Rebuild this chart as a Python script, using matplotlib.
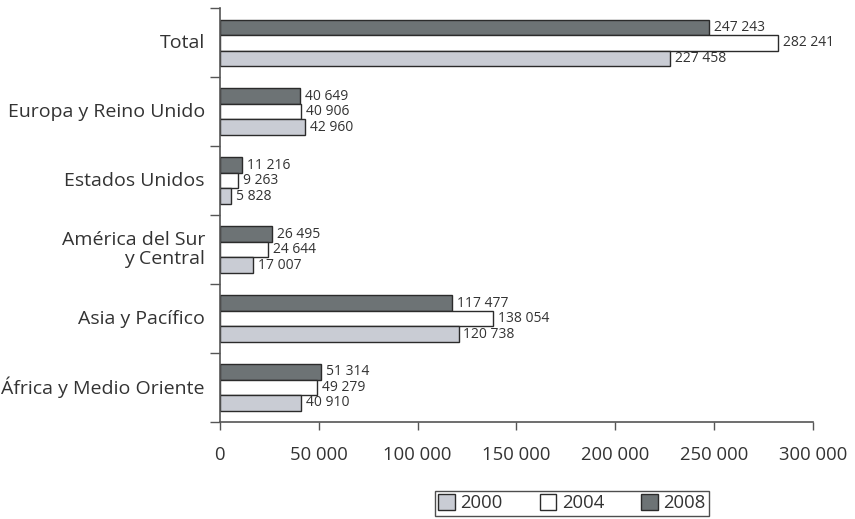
import numpy as np
import matplotlib
matplotlib.use("Agg")
import matplotlib.pyplot as plt

plt.rcParams['font.family'] = ['Open Sans', 'DejaVu Sans']

regions = ["Total", "Europa y Reino Unido", "Estados Unidos",
           "América del Sur\ny Central", "Asia y Pacífico", "África y Medio Oriente"]
years = ["2000", "2004", "2008"]
v2000 = [227458, 42960, 5828, 17007, 120738, 40910]
v2004 = [282241, 40906, 9263, 24644, 138054, 49279]
v2008 = [247243, 40649, 11216, 26495, 117477, 51314]

colors = {"2000": "#c9ccd4", "2004": "#ffffff", "2008": "#6d7375"}
edge = "#2b2b2b"

fig = plt.figure(figsize=(8.55, 5.19), dpi=100)
ax = fig.add_axes([0.257, 0.187, 0.694, 0.797])

# groups from top to bottom
pos = np.arange(len(regions))[::-1]
h = 0.225
series = [("2008", v2008, h), ("2004", v2004, 0.0), ("2000", v2000, -h)]
handles = {}
for yr, vals, off in series:
    bars = ax.barh(pos + off, vals, height=h, color=colors[yr],
                   edgecolor=edge, linewidth=1.0, label=yr)
    handles[yr] = bars
    for b, v in zip(bars, vals):
        ax.text(v + 2500, b.get_y() + h / 2, f"{v:,}".replace(",", " "),
                va="center", ha="left", fontsize=10, color="#333333")

ax.set_xlim(0, 300000)
ax.set_ylim(-0.5, len(regions) - 0.5)
ax.set_xticks(np.arange(0, 300001, 50000))
ax.set_xticklabels([f"{t:,}".replace(",", " ") for t in range(0, 300001, 50000)],
                   fontsize=13.3, color="#333333")
ax.tick_params(axis="x", direction="out", length=6, width=1, color="#555555", pad=11)

# category labels sit between the group boundary ticks
ax.set_yticks(np.arange(-0.5, len(regions), 1.0))
ax.set_yticklabels([])
ax.tick_params(axis="y", direction="out", length=7, width=1, color="#555555")
for p, name in zip(pos, regions):
    ax.text(-0.025, p, name, transform=ax.get_yaxis_transform(),
            ha="right", va="center", fontsize=14, color="#333333",
            linespacing=1.05)

for s in ["top", "right"]:
    ax.spines[s].set_visible(False)
for s in ["left", "bottom"]:
    ax.spines[s].set_color("#555555")
    ax.spines[s].set_linewidth(1.2)

leg = fig.legend([handles[y] for y in years], years, loc="center",
                 bbox_to_anchor=(0.669, 0.03), ncol=3, frameon=True,
                 fancybox=False, edgecolor="#222222", fontsize=13.3,
                 handlelength=0.9, handleheight=0.9, handletextpad=0.3,
                 columnspacing=2.0, borderpad=0.2)
leg.get_frame().set_linewidth(1.0)
for t in leg.get_texts():
    t.set_color("#333333")

fig.savefig("out.png", dpi=100)
